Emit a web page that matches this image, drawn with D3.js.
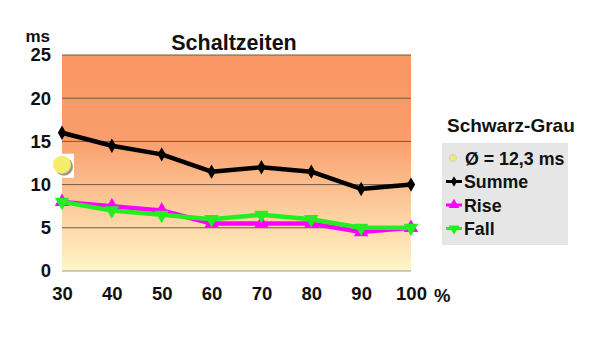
<!DOCTYPE html>
<html>
<head>
<meta charset="utf-8">
<script src="https://cdn.jsdelivr.net/npm/d3@7"></script>
<style>
  html, body { margin: 0; padding: 0; background: #fff; overflow: hidden; }
  svg { display: block; }
  text { font-family: "Liberation Sans", Arial, sans-serif; font-weight: bold; }
</style>
</head>
<body>
<div id="chart"></div>
<script>
let categories = [30, 40, 50, 60, 70, 80, 90, 100]
let summe = [16, 14.5, 13.5, 11.5, 12, 11.5, 9.5, 10]
let rise = [8, 7.5, 7, 5.5, 5.5, 5.5, 4.5, 5]
let fall = [8, 7, 6.5, 6, 6.5, 6, 5, 5]
let average = 12.3
let yTicks = [0, 5, 10, 15, 20, 25]

let width = 600, height = 352
let margin = {top: 55, left: 62, right: 189, bottom: 81}
let innerWidth = width - margin.left - margin.right
let innerHeight = height - margin.top - margin.bottom

let svg = d3.select('#chart').append('svg')
  .attr('width', width).attr('height', height)

let defs = svg.append('defs')
let grad = defs.append('linearGradient').attr('id', 'bg')
  .attr('x1', 0).attr('y1', 0).attr('x2', 0).attr('y2', 1)
grad.append('stop').attr('offset', '0%').attr('stop-color', '#f99764')
grad.append('stop').attr('offset', '38%').attr('stop-color', '#fa9d6b')
grad.append('stop').attr('offset', '100%').attr('stop-color', '#fff6c8')

let x = d3.scaleLinear().domain([30, 100]).range([0, innerWidth])
let y = d3.scaleLinear().domain([0, 25]).range([innerHeight, 0])

let g = svg.append('g').attr('transform', 'translate(' + margin.left + ',' + margin.top + ')')

g.append('rect').attr('width', innerWidth).attr('height', innerHeight).attr('fill', 'url(#bg)')

// gridlines
g.selectAll('.grid').data(yTicks).enter().append('line')
  .attr('x1', 0).attr('x2', innerWidth)
  .attr('y1', d => y(d)).attr('y2', d => y(d))
  .attr('stroke', d => d === 0 ? '#999' : '#6b5a50').attr('stroke-width', 1)

// y axis labels
let yAxis = g.append('g').call(d3.axisLeft(y).tickValues(yTicks).tickSize(0).tickPadding(11))
yAxis.select('.domain').remove()
yAxis.selectAll('text').attr('font-size', 18.5).attr('fill', '#111')
  .attr('font-family', '"Liberation Sans", Arial, sans-serif').attr('font-weight', 'bold')

// x axis labels
let xAxis = g.append('g').attr('transform', 'translate(0,' + innerHeight + ')')
  .call(d3.axisBottom(x).tickValues(categories).tickSize(0).tickPadding(16).tickFormat(d3.format('d')))
xAxis.select('.domain').remove()
xAxis.selectAll('text').attr('font-size', 18.5).attr('fill', '#111')
  .attr('font-family', '"Liberation Sans", Arial, sans-serif').attr('font-weight', 'bold')

svg.append('text').attr('x', 434).attr('y', 302).attr('font-size', 18.5).attr('fill', '#111').text('%')
svg.append('text').attr('x', 50).attr('y', 42).attr('text-anchor', 'end').attr('font-size', 17).attr('fill', '#111').text('ms')
svg.append('text').attr('x', 234).attr('y', 50).attr('text-anchor', 'middle').attr('font-size', 21.5).attr('fill', '#111').text('Schaltzeiten')

// average marker
let ax = x(30), ay = y(average)
g.append('rect').attr('x', ax - 10).attr('y', ay - 11).attr('width', 22).attr('height', 24).attr('fill', '#fff')
g.append('circle').attr('cx', ax + 2).attr('cy', ay + 2).attr('r', 9).attr('fill', '#9a9a8a')
g.append('circle').attr('cx', ax).attr('cy', ay).attr('r', 9).attr('fill', '#f4ec6a')

let series = [
  {name: 'Summe', values: summe, color: '#000000', symbol: d3.symbolDiamond, size: 60, rot: 0},
  {name: 'Rise', values: rise, color: '#ff00ff', symbol: d3.symbolTriangle, size: 90, rot: 0},
  {name: 'Fall', values: fall, color: '#22ee22', symbol: d3.symbolTriangle, size: 90, rot: 180}
]

let line = d3.line().x(d => x(d[0])).y(d => y(d[1]))

series.forEach(function (s) {
  let pts = categories.map((c, i) => [c, s.values[i]])
  g.append('path').datum(pts).attr('d', line)
    .attr('fill', 'none').attr('stroke', s.color).attr('stroke-width', 4.5).attr('stroke-linejoin', 'round')
  g.selectAll(null).data(pts).enter().append('path')
    .attr('d', d3.symbol().type(s.symbol).size(s.size))
    .attr('transform', d => 'translate(' + x(d[0]) + ',' + y(d[1]) + ') rotate(' + s.rot + ')')
    .attr('fill', s.color)
})

// legend
svg.append('text').attr('x', 447).attr('y', 132).attr('font-size', 19).attr('fill', '#111').text('Schwarz-Grau')
let lg = svg.append('g')
lg.append('rect').attr('x', 442).attr('y', 143).attr('width', 126).attr('height', 102).attr('fill', '#e6e6e6')
let legendRows = [{name: 'Ø = 12,3 ms'}].concat(series)
legendRows.forEach(function (s, i) {
  let cy = 158 + i * 23.5
  if (i === 0) {
    lg.append('circle').attr('cx', 453).attr('cy', cy).attr('r', 3.5).attr('fill', '#f4ec6a').attr('stroke', '#ccc').attr('stroke-width', 0.8)
  } else {
    lg.append('line').attr('x1', 446).attr('x2', 462).attr('y1', cy).attr('y2', cy).attr('stroke', s.color).attr('stroke-width', 3)
    lg.append('path').attr('d', d3.symbol().type(s.symbol).size(s.size * 0.55))
      .attr('transform', 'translate(454,' + cy + ') rotate(' + s.rot + ')').attr('fill', s.color)
  }
  lg.append('text').attr('x', i === 0 ? 465 : 464).attr('y', cy + 6.5).attr('font-size', 17.8).attr('fill', '#111').text(s.name)
})
</script>
</body>
</html>
